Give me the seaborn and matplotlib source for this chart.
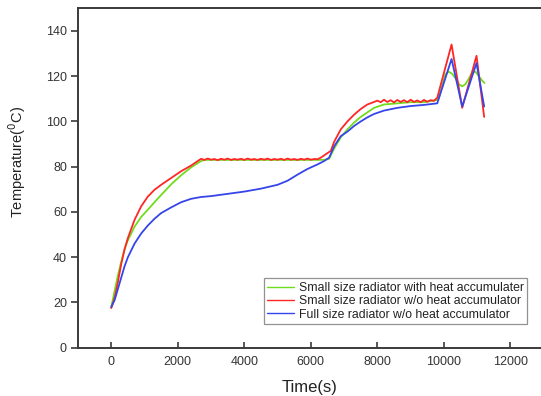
import numpy as np
import pandas as pd
import matplotlib
matplotlib.use("Agg")
import matplotlib.pyplot as plt
import seaborn as sns

# ---------------- data ----------------
labels = ["Small size radiator with heat accumulater",
          "Small size radiator w/o heat accumulator",
          "Full size radiator w/o heat accumulator"]
colors = ["#6fdc1e", "#ff2626", "#3545ea"]

t_green = [0, 100, 200, 300, 400, 500, 700, 900, 1100, 1300, 1500, 1800, 2100,
           2400, 2700, 2800, 3500, 4500, 5500, 6200, 6400, 6550, 6700, 6900,
           7100, 7300, 7500, 7700, 7900, 8200, 8600, 9000, 9400, 9800, 9850,
           9950, 10050, 10150, 10250, 10350, 10450, 10550, 10650, 10750, 10850,
           10950, 11050, 11150, 11220]
T_green = [18, 25, 32, 38, 43.5, 47.5, 53.5, 57.8, 61, 64.3, 67.5, 72.2, 76.2,
           79.7, 82.5, 83, 83, 83, 83, 83, 83, 83.5, 88, 93, 96.5, 99.5, 102,
           104, 106, 107.5, 108, 108.5, 108.5, 109.5, 110.5, 116, 121, 122, 121,
           119, 116.5, 115.5, 116.5, 119, 121.5, 122, 120, 118, 117]

t_red = [0, 100, 200, 300, 400, 500, 700, 900, 1100, 1300, 1500, 1800, 2100,
         2400, 2600,
         2700, 2800, 2900, 3000, 3100, 3200, 3300, 3400, 3500, 3600, 3700, 3800,
         3900, 4000, 4100, 4200, 4300, 4400, 4500, 4600, 4700, 4800, 4900, 5000,
         5100, 5200, 5300, 5400, 5500, 5600, 5700, 5800, 5900, 6000, 6100, 6200,
         6300, 6400, 6500, 6600, 6700, 6900, 7100, 7300, 7500, 7700, 7900,
         8000, 8100, 8200, 8300, 8400, 8500, 8600, 8700, 8800, 8900, 9000, 9100,
         9200, 9300, 9400, 9500, 9600, 9700, 9800, 10230, 10550, 10980, 11210]
T_red = [17.5, 22, 29, 37, 43.5, 48.5, 56.5, 62.5, 66.8, 69.8, 72, 75, 78,
         80.5, 82.5,
         83.5, 83.0, 83.6, 83.1, 83.4, 82.9, 83.5, 83.1, 83.6, 83.0, 83.4, 83.1,
         83.5, 83.0, 83.6, 83.1, 83.4, 83.0, 83.5, 83.1, 83.6, 83.0, 83.4, 83.1,
         83.5, 83.0, 83.6, 83.1, 83.4, 83.0, 83.5, 83.1, 83.6, 83.1, 83.4, 83.3,
         84, 85, 86, 87, 91, 96.5, 100, 103, 105.5, 107.5, 108.6,
         109.2, 108.5, 109.6, 108.6, 109.4, 108.4, 109.5, 108.6, 109.4, 108.5,
         109.6, 108.6, 109.3, 108.5, 109.5, 108.7, 109.4, 109.1, 110.5, 134,
         106, 129, 102]

t_blue = [0, 100, 200, 300, 400, 500, 700, 900, 1100, 1300, 1500, 1800, 2100,
          2400, 2700, 3000, 3500, 4000, 4500, 5000, 5300, 5600, 5900, 6200, 6400,
          6550, 6700, 6900, 7100, 7300, 7500, 7700, 7900, 8200, 8600, 9000, 9400,
          9800, 10230, 10550, 10980, 11210]
T_blue = [18, 21, 26, 31, 36, 40, 46, 50.5, 54, 57, 59.5, 62, 64.3, 65.8, 66.6,
          67, 68, 69, 70.3, 72, 73.8, 76.5, 79, 81, 82.5, 84, 89, 93.5, 95.5, 98,
          100, 101.8, 103.3, 104.8, 106, 106.8, 107.3, 108, 127.6, 106.6, 125.8,
          106.6]

x_ticks = [0, 2000, 4000, 6000, 8000, 10000, 12000]
y_ticks = [0, 20, 40, 60, 80, 100, 120, 140]

frames = [
    pd.DataFrame({"Time": t_green, "Temp": T_green, "Series": labels[0]}),
    pd.DataFrame({"Time": t_red, "Temp": T_red, "Series": labels[1]}),
    pd.DataFrame({"Time": t_blue, "Temp": T_blue, "Series": labels[2]}),
]
df = pd.concat(frames, ignore_index=True)

# ---------------- plot ----------------
sns.set_theme(style="white")
plt.rcParams["font.family"] = ["Liberation Sans", "DejaVu Sans"]

fig = plt.figure(figsize=(5.41, 3.96), dpi=100)
ax = fig.add_axes([78 / 541, 1 - 347.7 / 396, 465.7 / 541, 339.4 / 396])

sns.lineplot(data=df, x="Time", y="Temp", hue="Series", hue_order=labels,
             palette=colors, sort=False, estimator=None, linewidth=1.3, ax=ax)

ax.set_xlim(-1000, 13000)
ax.set_ylim(0, 150)
ax.set_xticks(x_ticks)
ax.set_yticks(y_ticks)

for side in ["left", "bottom", "top", "right"]:
    ax.spines[side].set_visible(True)
    ax.spines[side].set_color("#3a3a3a")
    ax.spines[side].set_linewidth(1.4)

ax.tick_params(axis="x", direction="in", length=4, width=1.2, color="#3a3a3a",
               labelsize=9, labelcolor="#333333", pad=6, bottom=True)
ax.tick_params(axis="y", direction="out", length=5, width=1.2, color="#3a3a3a",
               labelsize=9, labelcolor="#333333", pad=3, left=True)

ax.set_xlabel("Time(s)", fontsize=12, color="#222222")
ax.set_ylabel("Temperature($^{0}$C)", fontsize=10.5, color="#222222")
ax.yaxis.set_label_coords(-0.107, 0.547)
ax.xaxis.set_label_coords(0.498, -0.095)

leg = ax.legend(loc="upper left", bbox_to_anchor=(0.399, 0.205),
                borderaxespad=0, fontsize=8.8, frameon=True, fancybox=False,
                handlelength=2.2, handletextpad=0.35, labelspacing=0.12,
                borderpad=0.3)
leg.get_frame().set_edgecolor("#777777")
leg.get_frame().set_linewidth(0.9)
for txt in leg.get_texts():
    txt.set_color("#222222")
for line in leg.get_lines():
    line.set_linewidth(1.0)

fig.savefig("out.png", dpi=100)
